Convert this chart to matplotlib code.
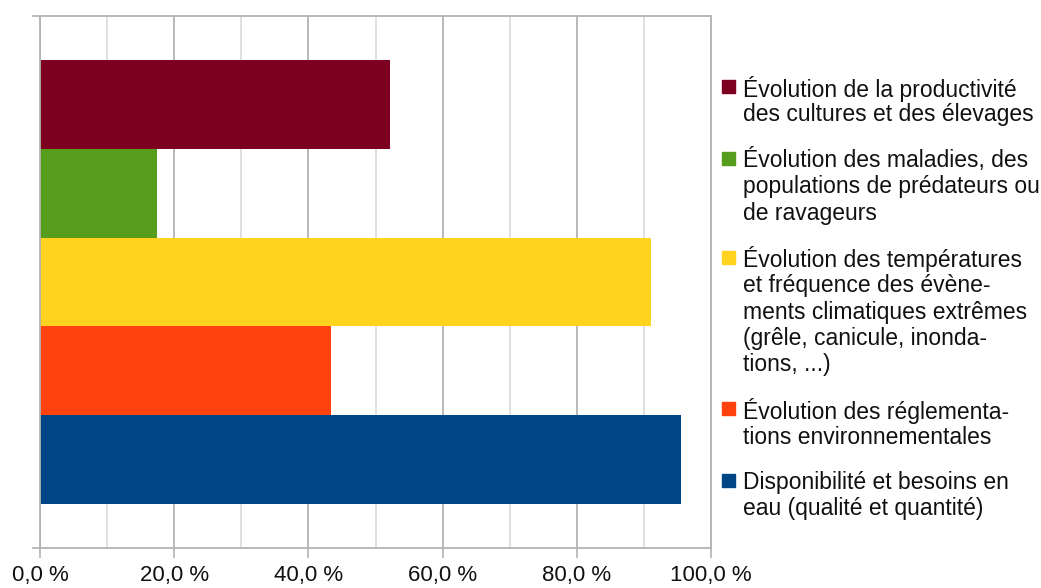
import matplotlib.pyplot as plt
from matplotlib.patches import Rectangle
from matplotlib.ticker import MultipleLocator, FuncFormatter

plt.rcParams["font.family"] = ["Liberation Sans", "DejaVu Sans"]

# series, top to bottom
labels = [
    "Évolution de la productivité\ndes cultures et des élevages",
    "Évolution des maladies, des\npopulations de prédateurs ou\nde ravageurs",
    "Évolution des températures\net fréquence des évène-\nments climatiques extrêmes\n(grêle, canicule, inonda-\ntions, ...)",
    "Évolution des réglementa-\ntions environnementales",
    "Disponibilité et besoins en\neau (qualité et quantité)",
]
values = [52.2, 17.4, 91.1, 43.4, 95.5]
colors = ["#7e0021", "#579d1c", "#ffd320", "#ff420e", "#004586"]

W, H = 1041, 588
fig = plt.figure(figsize=(W / 100, H / 100), dpi=100)
ax = fig.add_axes([40 / W, 1 - 548 / H, (711 - 40) / W, (548 - 16) / H])

for i, (v, c) in enumerate(zip(values, colors)):
    ax.barh(i, v, height=1.0, color=c, zorder=2)

ax.set_xlim(0, 100)
ax.set_ylim(5, -1)

grid_major = "#b3b3b3"
grid_minor = "#dddddd"
ax.xaxis.set_major_locator(MultipleLocator(20))
ax.xaxis.set_minor_locator(MultipleLocator(10))
ax.xaxis.set_major_formatter(FuncFormatter(lambda x, p: f"{x:.1f}".replace(".", ",") + " %"))
ax.grid(axis="x", which="major", color=grid_major, lw=1.3, zorder=0)
ax.grid(axis="x", which="minor", color=grid_minor, lw=1.3, zorder=0)
ax.tick_params(axis="x", which="major", length=7.2, width=1.2, color=grid_major,
               labelsize=16, pad=5, labelcolor="#111111")
ax.tick_params(axis="x", which="minor", length=0)

ax.set_yticks([-1, 5])
ax.set_yticklabels([])
ax.tick_params(axis="y", length=5.8, width=1.2, color=grid_major)

for s in ax.spines.values():
    s.set_color(grid_major)
    s.set_linewidth(1.3)

# legend drawn by hand so markers line up with the first text line
y = 86
line_h = 26.5
gap = 19
for lab, c in zip(labels, colors):
    fig.patches.append(Rectangle(((722) / W, 1 - (y + 7) / H), 13 / W, 13 / H,
                                 transform=fig.transFigure, color=c))
    for k, line in enumerate(lab.split("\n")):
        fig.text(743 / W, 1 - (y + k * line_h) / H, line, fontsize=16.5,
                 va="center_baseline", ha="left", color="#111111")
    y += len(lab.split("\n")) * line_h + gap

fig.savefig("out.png", dpi=100)
